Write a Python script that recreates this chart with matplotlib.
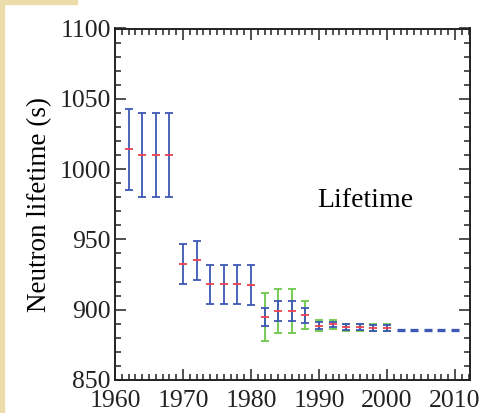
import matplotlib.pyplot as plt
from matplotlib.patches import Rectangle
from matplotlib.ticker import MultipleLocator

plt.rcParams['font.family'] = ['Liberation Serif', 'DejaVu Serif']

# Early measurements (blue error bars only)
early_years = [1962, 1964, 1966, 1968, 1970, 1972, 1974, 1976, 1978, 1980]
early_values = [1014, 1010, 1010, 1010, 932.5, 935, 918, 918, 918, 917.5]
early_err = [29, 30, 30, 30, 14, 14, 14, 14, 14, 14]

# Later measurements (green = total error, blue = statistical error)
late_years = [1982, 1984, 1986, 1988, 1990, 1992, 1994, 1996, 1998, 2000]
late_values = [895, 899, 899, 896, 888.5, 889.5, 887.5, 887.5, 887, 887]
late_err_blue = [6.5, 7, 7, 5.5, 2.5, 2, 2, 2, 2, 2]
late_err_green = [17, 15.5, 15.5, 10, 4, 3, 2.5, 2.5, 2.5, 2.5]

# Recent values (shown as blue dashes)
recent_years = [2002, 2004, 2006, 2008, 2010]
recent_values = [885.7, 885.7, 885.7, 885.7, 885.7]

blue = '#3d58b5'
green = '#6cc84a'
red = '#f0404f'

fig = plt.figure(figsize=(4.81, 4.13), dpi=100)
fig.patches.append(Rectangle((0, 0), 4 / 481, 1, transform=fig.transFigure,
                             color='#ecdcaa', zorder=0))
fig.patches.append(Rectangle((0, 1 - 4 / 413), 77 / 481, 4 / 413,
                             transform=fig.transFigure, color='#ecdcaa', zorder=0))

ax = fig.add_axes([115 / 481, 1 - 380 / 413, 355 / 481, 351.5 / 413])

ax.errorbar(late_years, late_values, yerr=late_err_green, fmt='none',
            ecolor=green, elinewidth=1.3, capsize=2.8, capthick=1.3)
ax.errorbar(early_years, early_values, yerr=early_err, fmt='none',
            ecolor=blue, elinewidth=1.3, capsize=2.8, capthick=1.3)
ax.errorbar(late_years, late_values, yerr=late_err_blue, fmt='none',
            ecolor=blue, elinewidth=1.3, capsize=2.8, capthick=1.3)
ax.plot(early_years + late_years, early_values + late_values, ls='none',
        marker='_', color=red, markersize=5.5, markeredgewidth=1.3)
ax.plot(recent_years, recent_values, ls='none', marker='_', color=blue,
        markersize=5.5, markeredgewidth=2.4)

ax.text(1996.8, 978, 'Lifetime', fontsize=20, ha='center', va='center')

ax.set_xlim(1960, 2012.2)
ax.set_ylim(850, 1100)
ax.xaxis.set_major_locator(MultipleLocator(10))
ax.xaxis.set_minor_locator(MultipleLocator(1))
ax.yaxis.set_major_locator(MultipleLocator(50))
ax.yaxis.set_minor_locator(MultipleLocator(10))
ax.tick_params(which='both', direction='in', top=True, right=True,
               width=1.1, labelsize=18.5, colors='#222222')
ax.tick_params(which='major', length=8)
ax.tick_params(which='minor', length=4)
ax.tick_params(axis='y', pad=3)
ax.tick_params(axis='x', pad=7)
for s in ax.spines.values():
    s.set_linewidth(1.4)
    s.set_color('#222222')

ax.set_ylabel('Neutron lifetime (s)', fontsize=19.5, labelpad=5)

fig.savefig('out.png', dpi=100)
